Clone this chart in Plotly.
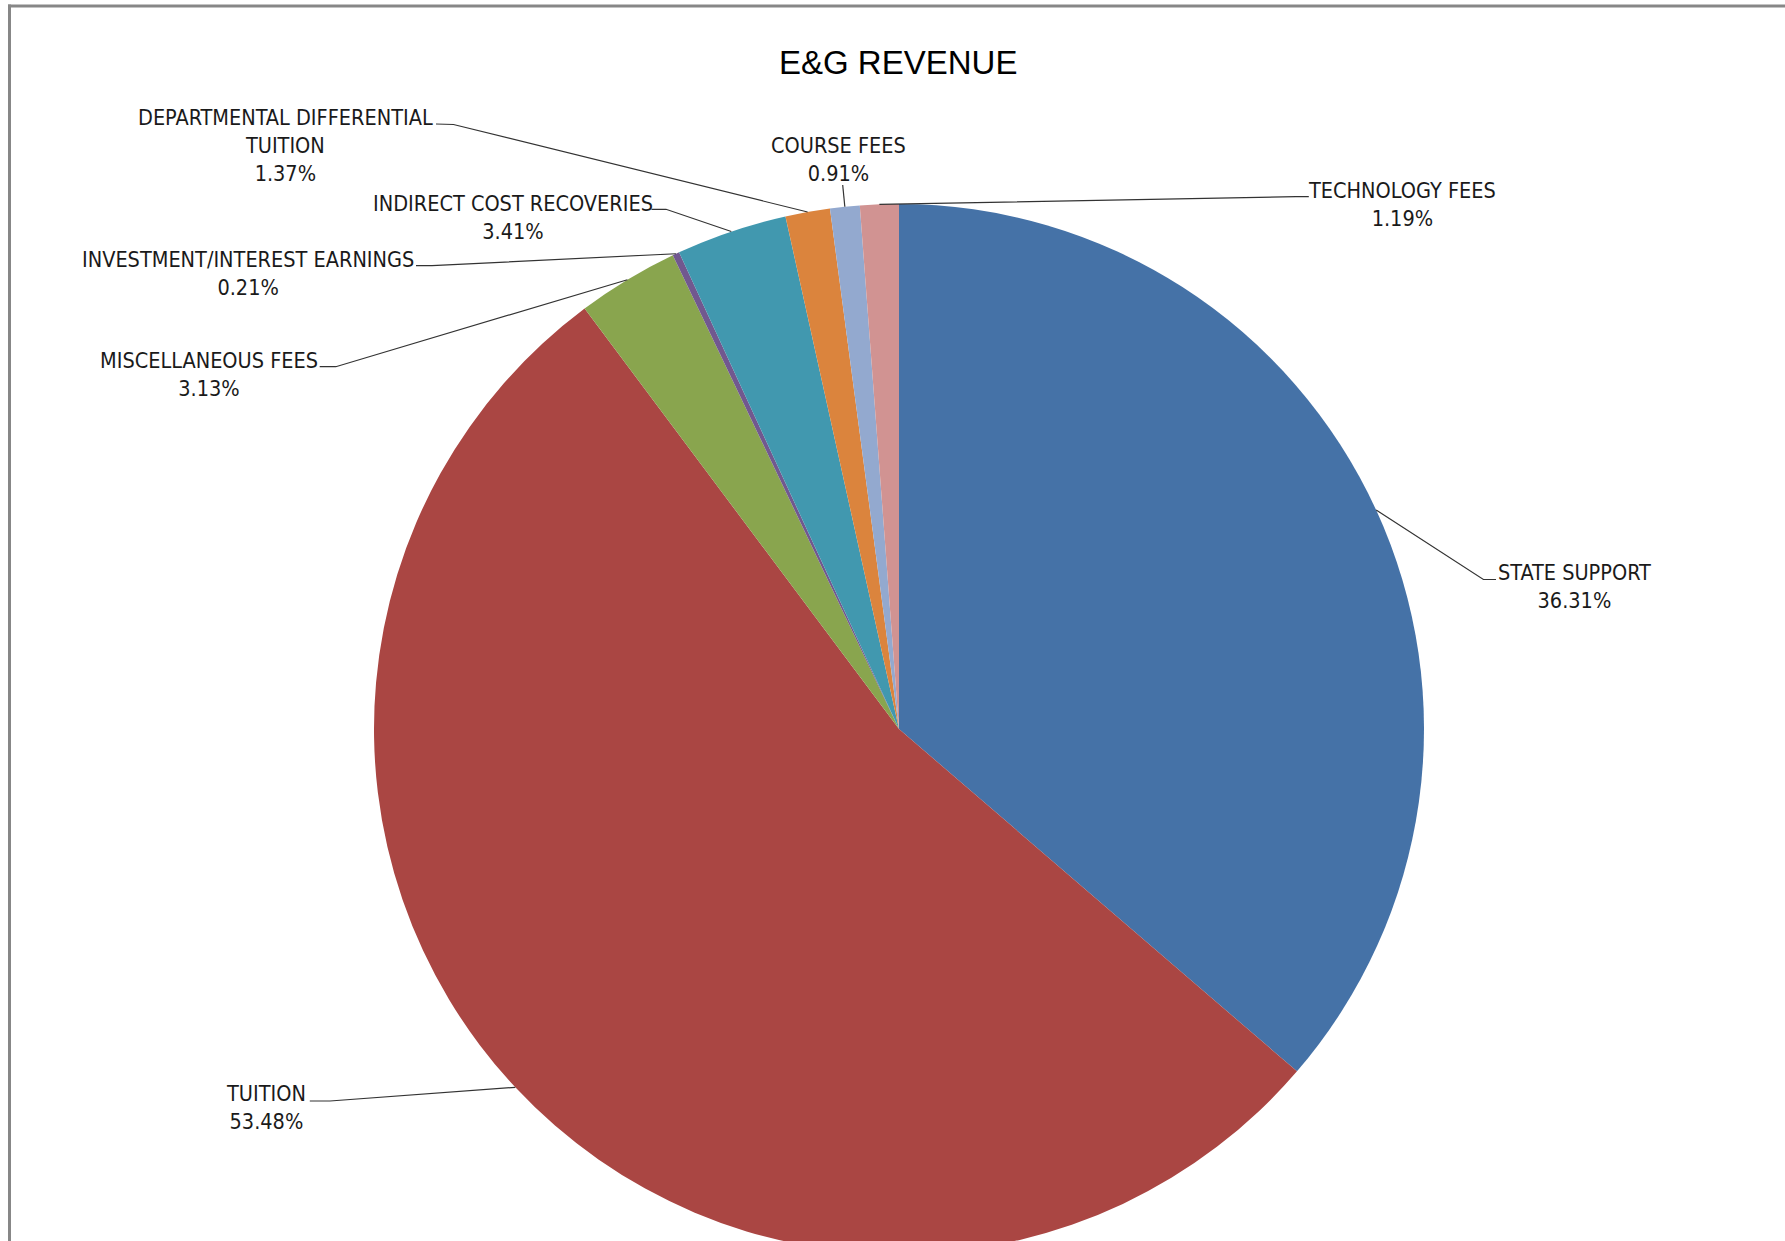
import math
import plotly.graph_objects as go

# ---- data ----
categories = [
    "STATE SUPPORT",
    "TUITION",
    "MISCELLANEOUS FEES",
    "INVESTMENT/INTEREST EARNINGS",
    "INDIRECT COST RECOVERIES",
    "DEPARTMENTAL DIFFERENTIAL TUITION",
    "COURSE FEES",
    "TECHNOLOGY FEES",
]
shares = [36.31, 53.48, 3.13, 0.21, 3.41, 1.37, 0.91, 1.19]
colors = ["#4572A7", "#AA4643", "#89A54E", "#71588F",
          "#4198AF", "#DB843D", "#93A9CF", "#D19392"]
title_text = "E&G REVENUE"

# ---- layout (page pixels) ----
FW, FH = 1785, 1262      # figure a bit taller than the window; overflow is hidden
CX, CY, R = 899, 729, 525

# label block centre (x, y), leader start point, elbow point
label_layout = {
    "STATE SUPPORT": ((1574.7, 586.7), (1496, 579.5), (1483.4, 579.5)),
    "TUITION": ((266, 1107.5), (309.8, 1101), (330, 1101)),
    "MISCELLANEOUS FEES": ((209, 374.7), (319.7, 366.7), (335.8, 366.7)),
    "INVESTMENT/INTEREST EARNINGS": ((247.7, 273.3), (416, 265.7), (432, 265.7)),
    "INDIRECT COST RECOVERIES": ((512.6, 217.9), (651.5, 209.3), (666, 209.3)),
    "DEPARTMENTAL DIFFERENTIAL TUITION": ((285, 145.8), (436, 124), (453.5, 124.5)),
    "COURSE FEES": ((838, 159.5), (842.7, 185), (842.7, 185)),
    "TECHNOLOGY FEES": ((1401.5, 204.5), (1308.8, 196.7), (1296, 196.7)),
}
wrap = {"DEPARTMENTAL DIFFERENTIAL TUITION": "DEPARTMENTAL DIFFERENTIAL<br>TUITION"}

LABEL_FONT = dict(family="Liberation Sans Narrow, DejaVu Sans Condensed, Arial Narrow, sans-serif",
                  size=21.5, color="#1a1a1a")


def px(x):
    return x / FW


def py(y):
    return 1 - y / FH


fig = go.Figure()
fig.add_trace(go.Pie(
    labels=categories,
    values=shares,
    sort=False,
    direction="clockwise",
    rotation=0,
    marker=dict(colors=colors, line=dict(width=0)),
    textinfo="none",
    hoverinfo="label+percent",
    showlegend=False,
    domain=dict(x=[px(CX - R), px(CX + R)], y=[max(0, py(CY + R)), py(CY - R)]),
))

total = sum(shares)
cum = 0.0
shapes = []
annotations = []
for cat, v in zip(categories, shares):
    mid = (cum + v / 2) / total * 2 * math.pi
    cum += v
    ex = CX + R * math.sin(mid)
    ey = CY - R * math.cos(mid)
    (tx, ty), (sx, sy), (bx, by) = label_layout[cat]
    text = f"{wrap.get(cat, cat)}<br>{v:.2f}%"
    annotations.append(dict(
        x=px(tx), y=py(ty), xref="paper", yref="paper",
        text=text, showarrow=False, align="center",
        xanchor="center", yanchor="middle", font=LABEL_FONT,
    ))
    path = f"M {px(sx)} {py(sy)} L {px(bx)} {py(by)} L {px(ex)} {py(ey)}"
    shapes.append(dict(type="path", path=path, xref="paper", yref="paper",
                       line=dict(color="#333333", width=1.2)))

# chart-area border (left and top edges visible)
shapes.append(dict(type="line", xref="paper", yref="paper",
                   x0=px(9.5), x1=px(9.5), y0=py(4.5), y1=0,
                   line=dict(color="#878787", width=3)))
shapes.append(dict(type="line", xref="paper", yref="paper",
                   x0=px(8), x1=1, y0=py(6), y1=py(6),
                   line=dict(color="#878787", width=3)))

annotations.append(dict(
    x=px(898), y=py(62.5), xref="paper", yref="paper",
    text=title_text, showarrow=False, xanchor="center", yanchor="middle",
    font=dict(family="Liberation Sans, Arial, sans-serif", size=33, color="#000000"),
))

fig.update_layout(
    width=FW, height=FH,
    margin=dict(l=0, r=0, t=0, b=0),
    paper_bgcolor="white",
    plot_bgcolor="white",
    shapes=shapes,
    annotations=annotations,
)

page_js = ("document.documentElement.style.overflow='hidden';"
           "document.body.style.overflow='hidden';"
           "document.body.style.margin='0';")
fig.write_html("out.html", post_script=page_js, config={"displayModeBar": False})
